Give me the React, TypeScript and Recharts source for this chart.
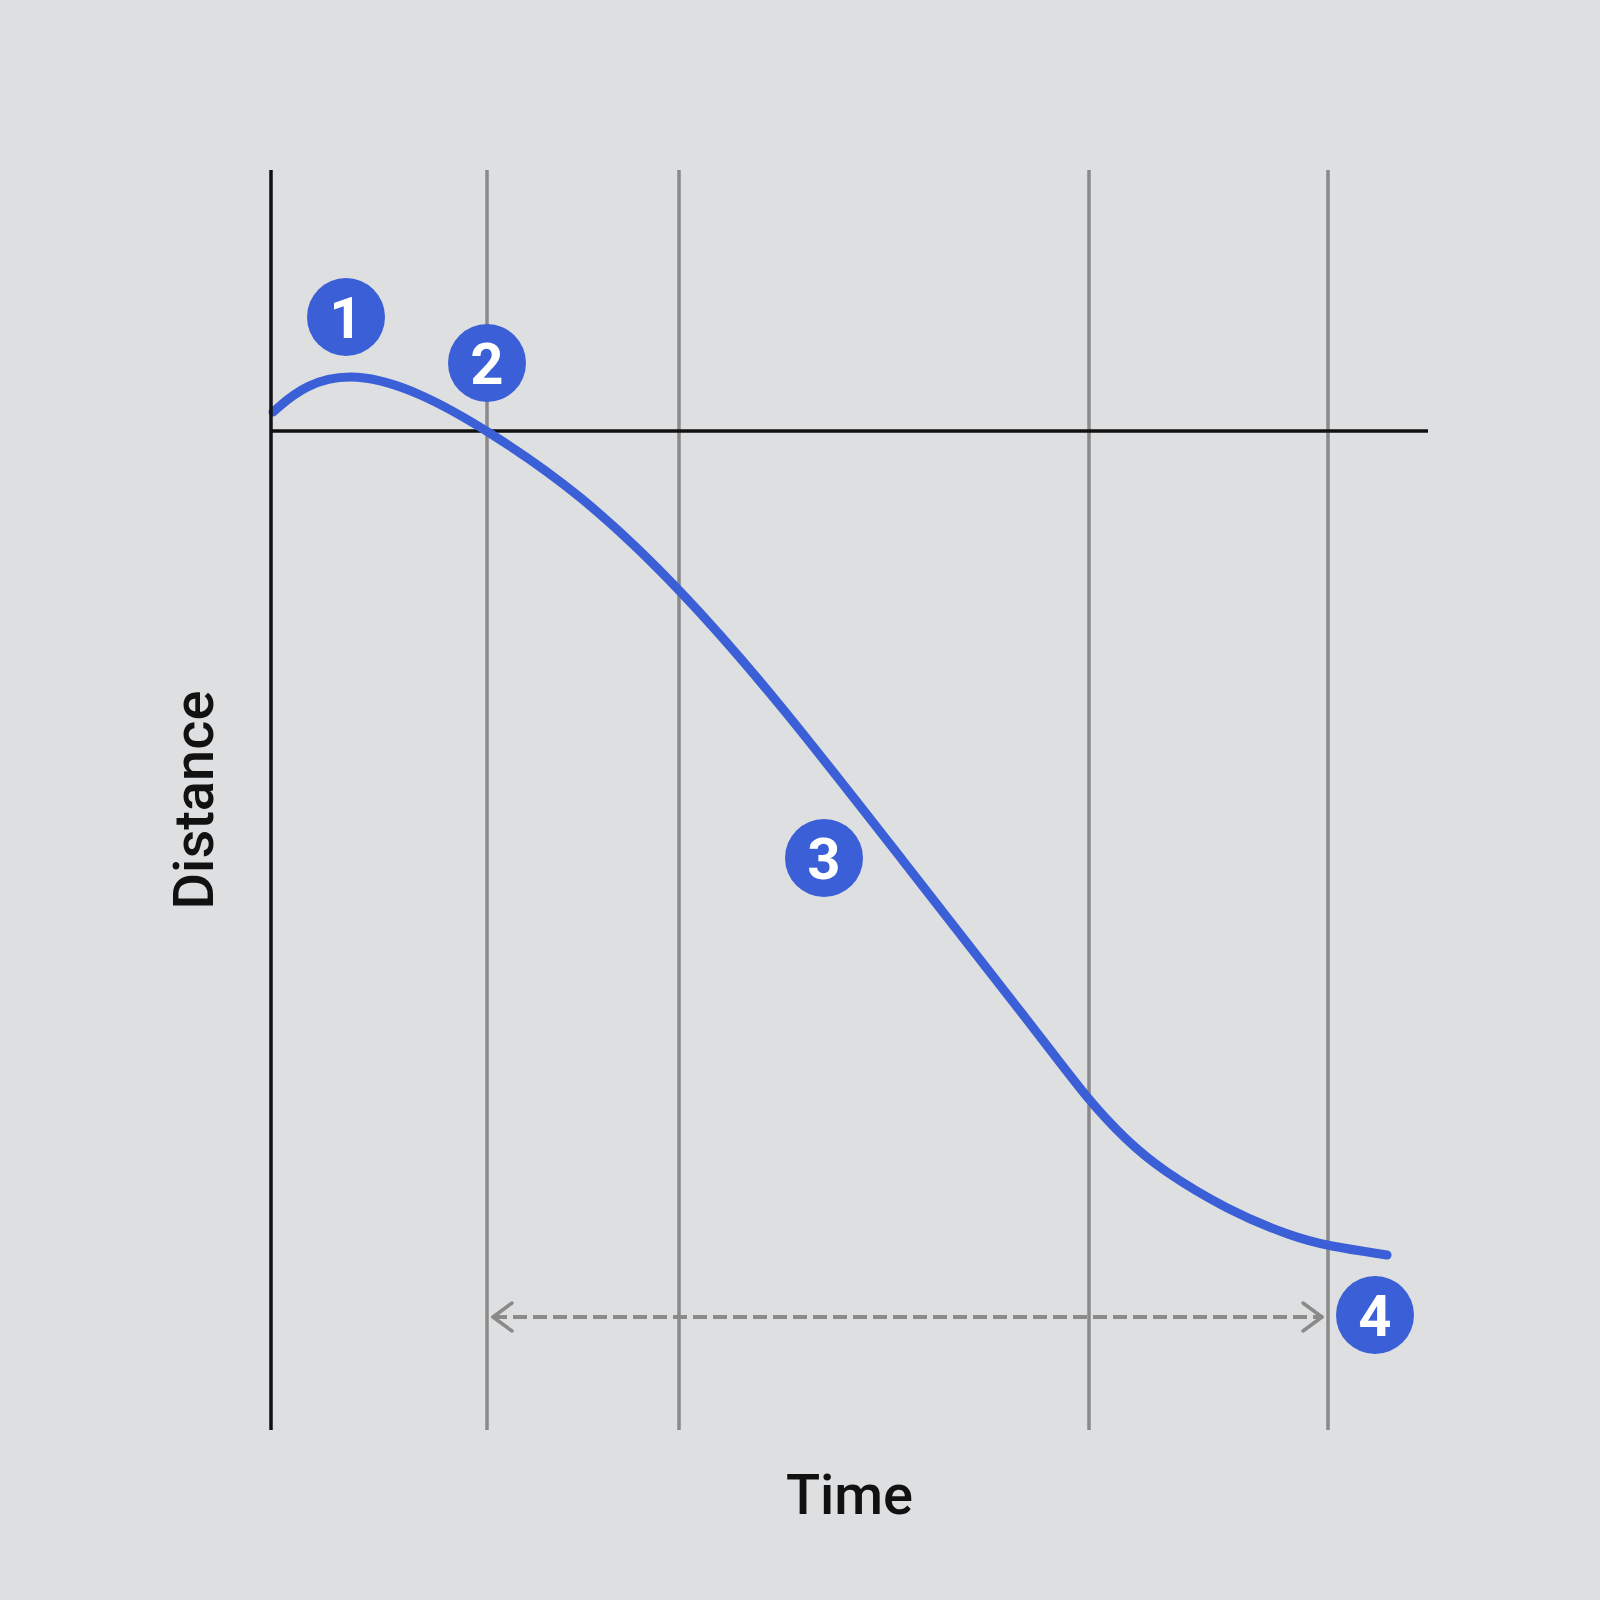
import { LineChart, Line, XAxis, YAxis, ReferenceLine, ReferenceDot } from "recharts";

// time / distance samples
const times = [2, 34, 84, 149, 216, 309, 409, 509, 629, 769, 817, 856, 889, 956, 1022, 1057, 1116];
const distances = [19, 47, 59, 39, 1, -62, -157, -272, -426, -605, -669, -710, -738, -779, -806, -815, -824];

const gridTimes = [216, 408, 818, 1057];

const badgeLabels = ["1", "2", "3", "4"];
const badgeTimes = [75, 216, 553, 1104];
const badgeDistances = [114, 68, -427, -884];

const spanStart = 222;
const spanEnd = 1051;
const spanLevel = -886;

const data = times.map((t, i) => ({ t, d: distances[i] }));

const BLUE = "#3a5fd6";
const GRAY = "#8a8a8a";
const INK = "#111111";

export default function App() {
  return (
    <div style={{ position: "absolute", left: 0, top: 0, width: 1600, height: 1600, background: "#dedfe0" }}>
      <LineChart width={1600} height={1600} data={data} margin={{ top: 170, right: 172, bottom: 42, left: 115 }}>
        <XAxis
          dataKey="t"
          type="number"
          domain={[0, 1157]}
          height={128}
          tick={false}
          tickLine={false}
          axisLine={false}
          label={{ value: "Time", position: "center", fontSize: 56, fontWeight: 500, fill: INK, fontFamily: "Roboto" }}
        />
        <YAxis
          type="number"
          domain={[-999, 261]}
          width={156}
          tick={false}
          tickLine={false}
          axisLine={{ stroke: INK, strokeWidth: 3.5 }}
          label={{ value: "Distance", angle: -90, position: "center", fontSize: 56, fontWeight: 500, fill: INK, fontFamily: "Roboto" }}
        />
        {gridTimes.map((t) => (
          <ReferenceLine key={t} x={t} stroke={GRAY} strokeWidth={3.5} />
        ))}
        <ReferenceLine y={0} stroke={INK} strokeWidth={3.5} />
        <ReferenceLine
          segment={[{ x: spanStart, y: spanLevel }, { x: spanEnd, y: spanLevel }]}
          stroke={GRAY}
          strokeWidth={4}
          strokeDasharray="14 6"
        />
        <ReferenceLine segment={[{ x: spanStart + 19, y: spanLevel + 14 }, { x: spanStart, y: spanLevel }]} stroke={GRAY} strokeWidth={3.5} strokeLinecap="round" />
        <ReferenceLine segment={[{ x: spanStart + 19, y: spanLevel - 14 }, { x: spanStart, y: spanLevel }]} stroke={GRAY} strokeWidth={3.5} strokeLinecap="round" />
        <ReferenceLine segment={[{ x: spanEnd - 19, y: spanLevel + 14 }, { x: spanEnd, y: spanLevel }]} stroke={GRAY} strokeWidth={3.5} strokeLinecap="round" />
        <ReferenceLine segment={[{ x: spanEnd - 19, y: spanLevel - 14 }, { x: spanEnd, y: spanLevel }]} stroke={GRAY} strokeWidth={3.5} strokeLinecap="round" />
        <Line
          type="basis"
          dataKey="d"
          stroke={BLUE}
          strokeWidth={9}
          strokeLinecap="round"
          dot={false}
          activeDot={false}
          isAnimationActive={false}
        />
        {badgeLabels.map((label, i) => (
          <ReferenceDot
            key={label}
            x={badgeTimes[i]}
            y={badgeDistances[i]}
            r={39}
            fill={BLUE}
            stroke="none"
            label={{ value: label, position: "center", fill: "#ffffff", fontSize: 58, fontWeight: 700, fontFamily: "Roboto" }}
          />
        ))}
      </LineChart>
    </div>
  );
}
